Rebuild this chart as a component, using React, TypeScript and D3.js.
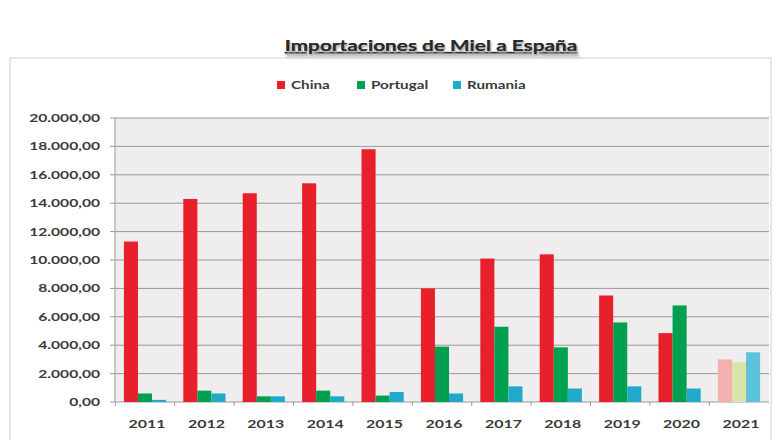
import { formatLocale, scaleBand, scaleLinear } from "d3";

const years = ["2011", "2012", "2013", "2014", "2015", "2016", "2017", "2018", "2019", "2020", "2021"];
const seriesNames = ["China", "Portugal", "Rumania"];
const china = [11300, 14300, 14700, 15400, 17800, 8000, 10100, 10400, 7500, 4850, 3000];
const portugal = [600, 800, 400, 800, 450, 3900, 5300, 3850, 5600, 6800, 2800];
const rumania = [150, 600, 400, 400, 700, 600, 1100, 950, 1100, 950, 3500];
const yTicks = [0, 2000, 4000, 6000, 8000, 10000, 12000, 14000, 16000, 18000, 20000];

const colors = ["#e8202c", "#00a050", "#1eaac8"];
const paleColors = ["#f3b0ae", "#d9e4a8", "#5cc4da"];

const es = formatLocale({ decimal: ",", thousands: ".", grouping: [3], currency: ["", "€"] });
const fmt = es.format(",.2f");

const W = 780;
const H = 440;
const left = 115;
const right = 769;
const top = 118;
const bottom = 402;

// the source text looks horizontally stretched, so draw it scaled in x
function Wide({ x, y, sx = 1.35, anchor = "start", size = 12, children, ...rest }: any) {
  return (
    <g transform={`translate(${x},${y}) scale(${sx},1)`}>
      <text textAnchor={anchor} fontSize={size} fontWeight="bold" fill="#3a3a3a" {...rest}>
        {children}
      </text>
    </g>
  );
}

export default function App() {
  const x = scaleBand<string>().domain(years).range([left, right]).paddingInner(0.29).paddingOuter(0.15);
  const xs = scaleBand<string>().domain(seriesNames).range([0, x.bandwidth()]);
  const y = scaleLinear().domain([0, 20000]).range([bottom, top]);
  const data = [china, portugal, rumania];

  const legendX = [277, 357, 453];

  return (
    <svg width={W} height={H} style={{ position: "absolute", left: 0, top: 0, fontFamily: "Lato, 'Open Sans', sans-serif" }}>
      <rect x={0} y={0} width={W} height={H} fill="#ffffff" />
      {/* chart frame */}
      <rect x={10} y={58} width={761} height={392} fill="none" stroke="#d0d0d0" />
      <Wide x={431} y={51} sx={1.3} size={16} anchor="middle" fill="#2a2a2a"
        textDecoration="underline" style={{ textShadow: "1px 2px 2px #b8b8b8" }}>
        Importaciones de Miel a España
      </Wide>

      {/* legend */}
      {seriesNames.map((s, i) => (
        <g key={s}>
          <rect x={legendX[i]} y={81} width={8} height={8} fill={colors[i]} />
          <Wide x={legendX[i] + 14} y={89} size={10.5} sx={1.45}>{s}</Wide>
        </g>
      ))}

      {/* plot background and grid */}
      <rect x={left} y={top} width={right - left} height={bottom - top} fill="#efeded" />
      {yTicks.map((t) => (
        <g key={t}>
          <line x1={left - 5} x2={right} y1={y(t)} y2={y(t)} stroke="#9a9a9a" strokeWidth={1} />
          <Wide x={left - 15} y={y(t) + 4} anchor="end" size={11} sx={1.42}>
            {fmt(t)}
          </Wide>
        </g>
      ))}
      <line x1={left} x2={left} y1={top} y2={bottom} stroke="#9a9a9a" />

      {/* bars */}
      {years.map((yr, i) => (
        <g key={yr} transform={`translate(${x(yr)},0)`}>
          {data.map((vals, j) => (
            <rect
              key={j}
              x={xs(seriesNames[j])}
              y={y(vals[i])}
              width={xs.bandwidth()}
              height={bottom - y(vals[i])}
              fill={yr === "2021" ? paleColors[j] : colors[j]}
            />
          ))}
          <Wide x={x.bandwidth() / 2 + 2} y={428} anchor="middle" size={11} sx={1.45}>
            {yr}
          </Wide>
        </g>
      ))}
      {years.map((yr) => (
        <line key={yr} x1={(x(yr) ?? 0) - (x.step() - x.bandwidth()) / 2} x2={(x(yr) ?? 0) - (x.step() - x.bandwidth()) / 2}
          y1={bottom} y2={bottom + 4} stroke="#9a9a9a" />
      ))}
    </svg>
  );
}
